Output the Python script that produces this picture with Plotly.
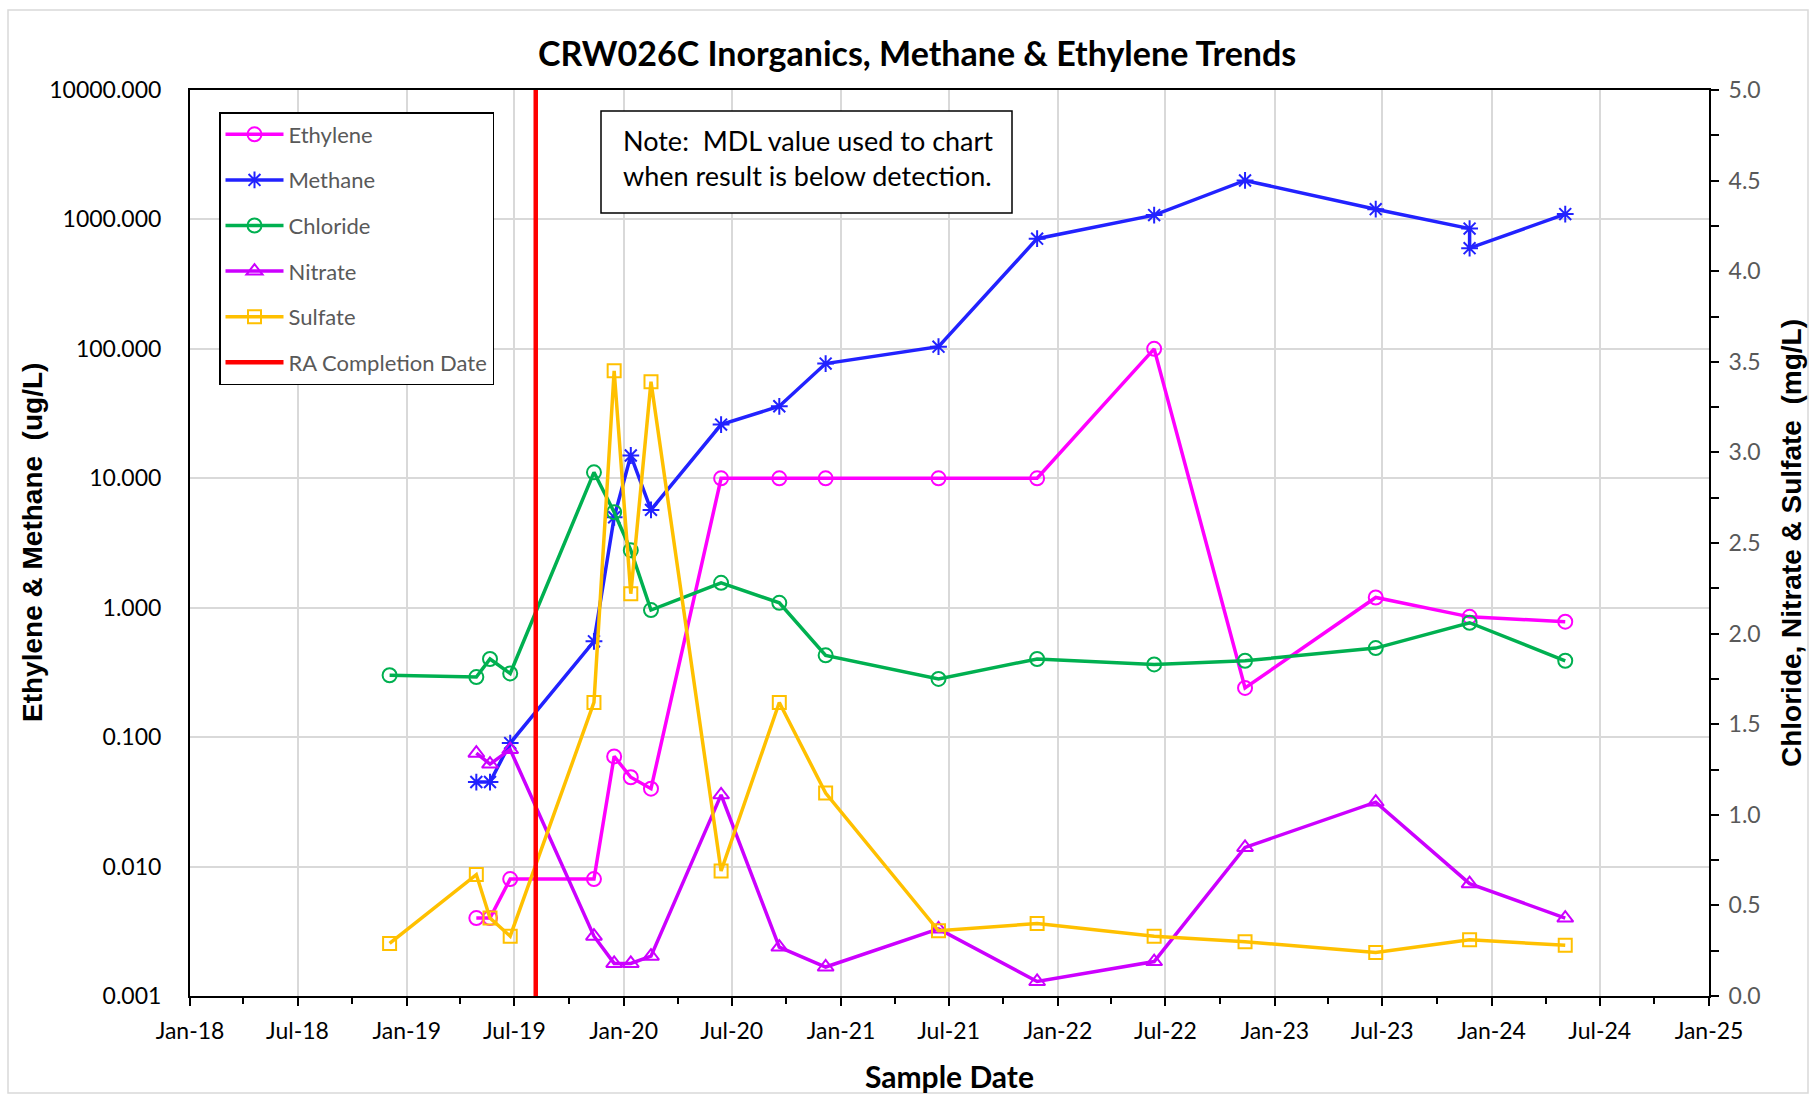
import plotly.graph_objects as go

# ---------------- data ----------------
dates_all = ["2018-12-03", "2019-04-28", "2019-05-21", "2019-06-24", "2019-11-12",
             "2019-12-16", "2020-01-13", "2020-02-16", "2020-06-13", "2020-09-19",
             "2020-12-06", "2021-06-14", "2021-11-27", "2022-06-12", "2022-11-12",
             "2023-06-20", "2023-11-25", "2024-05-04"]

eth_dates = dates_all[1:]
ethylene = [0.004, 0.004, 0.008, 0.008, 0.071, 0.049, 0.040, 10, 10, 10, 10, 10,
            100, 0.24, 1.2, 0.85, 0.78]

met_dates = dates_all[1:17] + ["2023-11-25", "2024-05-04"]
methane = [0.045, 0.045, 0.09, 0.55, 5.0, 15, 5.7, 26, 36, 77, 104, 710, 1080,
           2000, 1200, 850, 600, 1100]

chloride = [1.77, 1.76, 1.86, 1.78, 2.89, 2.67, 2.46, 2.13, 2.28, 2.17, 1.88, 1.75,
            1.86, 1.83, 1.85, 1.92, 2.06, 1.85]

nit_dates = dates_all[1:]
nitrate = [1.34, 1.28, 1.36, 0.33, 0.18, 0.18, 0.22, 1.11, 0.27, 0.16, 0.37, 0.08,
           0.19, 0.82, 1.07, 0.62, 0.43]

sulfate = [0.29, 0.67, 0.43, 0.33, 1.62, 3.45, 2.22, 3.39, 0.69, 1.62, 1.12, 0.36,
           0.40, 0.33, 0.30, 0.24, 0.31, 0.28]

ra_date = "2019-08-06"
right_range = [0, 5]

x_range = ["2018-01-01", "2025-01-01"]

# ---------------- layout helpers ----------------
W, H = 1814, 1094
L, R, T, B = 190, 1709, 90, 996


def px_x(p):
    return (p - L) / (R - L)


def px_y(p):
    return (B - p) / (B - T)


FONT = "Lato"
GRID = "#D9D9D9"

fig = go.Figure()

mk_line = 2
lw = 3.5
fig.add_trace(go.Scatter(x=eth_dates, y=ethylene, name="Ethylene", mode="lines+markers",
                         line=dict(color="#FF00FF", width=lw),
                         marker=dict(symbol="circle-open", size=14, line=dict(width=mk_line, color="#FF00FF")),
                         legendgroup="a", yaxis="y"))
fig.add_trace(go.Scatter(x=met_dates, y=methane, name="Methane", mode="lines+markers",
                         line=dict(color="#2222FF", width=lw),
                         marker=dict(symbol="asterisk-open", size=14, line=dict(width=mk_line, color="#2222FF")),
                         legendgroup="b", yaxis="y"))
fig.add_trace(go.Scatter(x=dates_all, y=chloride, name="Chloride", mode="lines+markers",
                         line=dict(color="#00B050", width=lw),
                         marker=dict(symbol="circle-open", size=14, line=dict(width=mk_line, color="#00B050")),
                         legendgroup="c", yaxis="y2"))
fig.add_trace(go.Scatter(x=nit_dates, y=nitrate, name="Nitrate", mode="lines+markers",
                         line=dict(color="#CC00FF", width=lw),
                         marker=dict(symbol="triangle-up-open", size=14, line=dict(width=mk_line, color="#CC00FF")),
                         legendgroup="d", yaxis="y2"))
fig.add_trace(go.Scatter(x=dates_all, y=sulfate, name="Sulfate", mode="lines+markers",
                         line=dict(color="#FFC000", width=lw),
                         marker=dict(symbol="square-open", size=13, line=dict(width=mk_line, color="#FFC000")),
                         legendgroup="e", yaxis="y2"))
fig.add_trace(go.Scatter(x=[ra_date, ra_date], y=right_range, name="RA Completion Date", mode="lines",
                         line=dict(color="#FF0000", width=4.5),
                         legendgroup="f", yaxis="y2"))

tickfont = dict(family=FONT, size=23, color="black")

fig.update_layout(
    width=W, height=H,
    margin=dict(l=L, r=W - R, t=T, b=H - B),
    paper_bgcolor="white", plot_bgcolor="white",
    showlegend=True,
    xaxis=dict(type="date", range=x_range, dtick="M6", tick0="2018-01-01", tickformat="%b-%y",
               showgrid=True, gridcolor=GRID, gridwidth=1.5,
               showline=True, linecolor="black", linewidth=2, mirror=True,
               ticks="outside", ticklen=8, tickwidth=2, tickcolor="black",
               minor=dict(dtick="M3", ticks="outside", ticklen=6, tickwidth=2, tickcolor="black", showgrid=False),
               tickfont=tickfont, ticklabelstandoff=5, zeroline=False),
    xaxis3=dict(type="date", range=x_range, overlaying="x", anchor="y", side="bottom",
                dtick="M6", tick0="2018-01-01", showticklabels=False, showgrid=False, showline=False,
                ticks="inside", ticklen=8, tickwidth=2, tickcolor="black",
                minor=dict(dtick="M3", ticks="inside", ticklen=6, tickwidth=2, tickcolor="black", showgrid=False),
                zeroline=False),
    yaxis=dict(type="log", range=[-3, 4], dtick=1, tickformat=".3f",
               showgrid=True, gridcolor=GRID, gridwidth=1.5,
               showline=True, linecolor="black", linewidth=2, mirror=False,
               ticks="", tickfont=tickfont, ticklabelstandoff=22, zeroline=False),
    yaxis2=dict(overlaying="y", side="right", anchor="x", range=right_range, dtick=0.5, tick0=0,
                tickformat=".1f", showgrid=False, showline=True, linecolor="black", linewidth=2,
                ticks="outside", ticklen=8, tickwidth=2, tickcolor="black",
                minor=dict(dtick=0.25, ticks="outside", ticklen=8, tickwidth=2, tickcolor="black", showgrid=False),
                tickfont=dict(family=FONT, size=23, color="#595959"), ticklabelstandoff=5, zeroline=False),
    yaxis3=dict(overlaying="y", side="right", anchor="x", range=right_range, dtick=0.5, tick0=0,
                showticklabels=False, showgrid=False, showline=False,
                ticks="inside", ticklen=8, tickwidth=2, tickcolor="black",
                minor=dict(dtick=0.25, ticks="inside", ticklen=8, tickwidth=2, tickcolor="black", showgrid=False),
                zeroline=False),
    legend=dict(x=px_x(219), y=px_y(112), xanchor="left", yanchor="top",
                bgcolor="white", bordercolor="black", borderwidth=1.5,
                font=dict(family=FONT, size=22, color="#595959"),
                traceorder="grouped", tracegroupgap=14, itemwidth=58),
    font=dict(family=FONT),
)

annotations = [
    dict(text="<b>CRW026C Inorganics, Methane &amp; Ethylene Trends</b>", x=px_x(917), y=px_y(53),
         xref="paper", yref="paper", showarrow=False, xanchor="center", yanchor="middle",
         font=dict(family=FONT, size=34, color="black")),
    dict(text="<b>Sample Date</b>", x=px_x(949), y=px_y(1076), xref="paper", yref="paper",
         showarrow=False, xanchor="center", yanchor="middle",
         font=dict(family=FONT, size=30, color="black")),
    dict(text="<b>Ethylene &amp; Methane\u00a0 (ug/L)</b>", x=px_x(32), y=px_y(543), xref="paper",
         yref="paper", showarrow=False, xanchor="center", yanchor="middle", textangle=-90,
         font=dict(family="Liberation Sans", size=28, color="black")),
    dict(text="<b>Chloride, Nitrate &amp; Sulfate\u00a0 (mg/L)</b>", x=px_x(1791), y=px_y(543),
         xref="paper", yref="paper", showarrow=False, xanchor="center", yanchor="middle", textangle=-90,
         font=dict(family="Liberation Sans", size=28, color="black")),
    dict(text="Note:\u00a0 MDL value used to chart<br>when result is below detection.", x=px_x(621),
         y=px_y(158), xref="paper", yref="paper", showarrow=False, xanchor="left", yanchor="middle",
         align="left", font=dict(family=FONT, size=27, color="black")),
]
fig.update_layout(annotations=annotations)

fig.update_layout(shapes=[
    dict(type="rect", xref="paper", yref="paper", x0=px_x(601), x1=px_x(1012), y0=px_y(213), y1=px_y(111),
         line=dict(color="black", width=1.5), fillcolor="white", layer="above"),
    dict(type="rect", xref="paper", yref="paper", x0=px_x(8), x1=px_x(1808), y0=px_y(1093), y1=px_y(10),
         line=dict(color=GRID, width=1.5), fillcolor="rgba(0,0,0,0)", layer="below"),
])

fig.write_html("out.html")
